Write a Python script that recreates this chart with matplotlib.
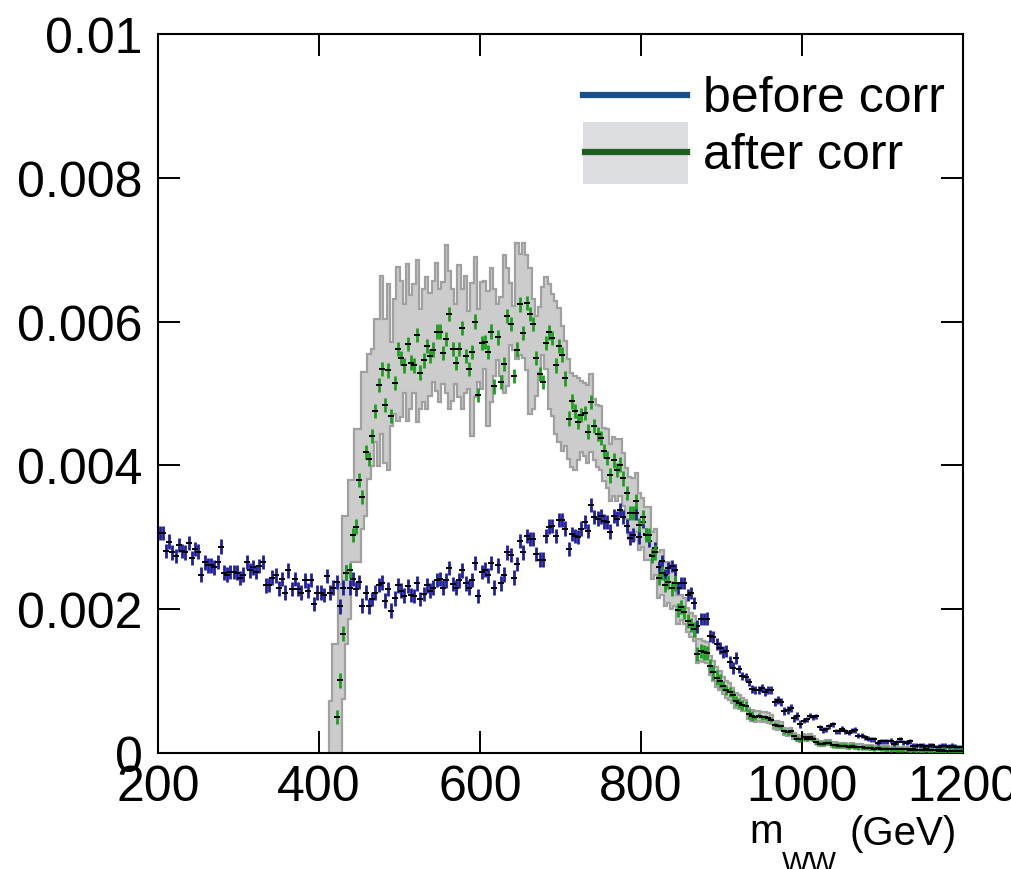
import numpy as np
import matplotlib
matplotlib.use('Agg')
import matplotlib.pyplot as plt
from matplotlib.patches import Rectangle
from matplotlib.lines import Line2D

plt.rcParams['font.family'] = ['Liberation Sans', 'DejaVu Sans']

# binning: 250 bins of 4 GeV from 200 to 1200
edges = np.arange(200, 1201, 4)
centers = edges[:-1] + 2

# before correction (x 1e-3), one value per bin
before_val = [
    3.06, 3.06, 2.81, 2.94, 2.79, 2.74, 2.89, 2.81, 2.79, 2.92,
    2.71, 2.84, 2.80, 2.48, 2.65, 2.61, 2.61, 2.58, 2.66, 2.87,
    2.51, 2.48, 2.52, 2.52, 2.51, 2.43, 2.48, 2.66, 2.54, 2.58,
    2.52, 2.60, 2.66, 2.33, 2.34, 2.44, 2.47, 2.29, 2.42, 2.23,
    2.54, 2.28, 2.42, 2.28, 2.23, 2.40, 2.26, 2.41, 2.07, 2.23,
    2.23, 2.20, 2.46, 2.23, 2.30, 2.38, 2.04, 2.30,
    2.51, 2.30, 2.42, 2.28, 2.38,
    2.05, 2.23, 2.04, 2.14, 2.23, 2.34, 2.37, 2.12, 2.28, 1.98,
    2.15, 2.33, 2.26, 2.19, 2.32, 2.20, 2.18, 2.36, 2.14, 2.21,
    2.33, 2.26, 2.30, 2.41, 2.42, 2.30, 2.40, 2.57, 2.35, 2.30,
    2.40, 2.54, 2.36, 2.30, 2.41, 2.64, 2.18, 2.52, 2.55, 2.47,
    2.64, 2.30, 2.61, 2.36, 2.48, 2.79, 2.75, 2.44, 2.63, 2.95,
    2.79, 3.02, 2.98, 2.98, 2.77, 2.69, 2.69, 3.02, 3.15, 3.16,
    3.02, 3.24, 3.24, 3.12, 2.84,
    3.05, 3.02, 3.00, 3.12, 3.21, 3.09, 3.45, 3.28, 3.26, 3.29,
    3.22, 3.21, 3.08, 3.30, 3.26, 3.38, 3.28, 3.16, 2.99, 3.03,
    3.34, 3.00, 3.21,
    3.05, 2.95, 2.75, 2.85,
    2.58, 2.67, 2.48, 2.57, 2.60, 2.54, 2.29, 2.36, 2.36, 2.20,
    2.23, 2.09, 1.76, 1.86, 1.86, 1.87, 1.63, 1.61, 1.52, 1.46,
    1.40, 1.42, 1.27, 1.18, 1.32, 1.17,
    1.07, 1.06, 0.99, 0.89, 0.88, 0.87, 0.90, 0.85, 0.87, 0.87,
    0.71, 0.74, 0.71, 0.59, 0.60, 0.62, 0.48, 0.52, 0.40, 0.45,
    0.47, 0.52, 0.50, 0.51, 0.36, 0.32, 0.33, 0.37, 0.40, 0.30,
    0.30, 0.34, 0.30, 0.28, 0.31, 0.32, 0.24, 0.24, 0.22, 0.20,
    0.19, 0.19, 0.14, 0.16, 0.16, 0.16, 0.17, 0.13, 0.15, 0.19,
    0.15, 0.14, 0.16, 0.10, 0.10, 0.11, 0.10, 0.09, 0.10, 0.11,
    0.08, 0.09, 0.10, 0.10, 0.09, 0.10, 0.09, 0.08, 0.08,
]
before_err = [0.10] * 150 + [0.085] * 30 + [0.055] * 20 + [0.035] * 50

# after correction, starts at bin 55 (420 GeV)
after_first = 55
after_val = [
    0.50, 1.01, 1.66, 2.51, 2.54, 3.03, 3.15, 3.80, 3.56, 4.19,
    4.09, 4.41, 4.76, 5.12, 5.34, 4.84, 5.32, 4.69, 5.15, 5.62,
    5.49, 5.39, 5.69, 5.43, 5.39, 5.81, 5.29, 5.46, 5.66, 5.52,
    5.61, 5.86, 5.86, 5.56, 5.76, 6.11, 5.62, 5.42, 5.62,
    5.91, 5.52, 5.34, 5.58, 6.00, 4.98, 5.70, 5.72, 5.58, 5.86,
    5.10, 5.78, 5.16, 5.41, 6.08, 5.97, 5.24, 5.61, 6.24, 5.84,
    6.26, 6.11, 5.97, 5.49, 5.27, 5.16, 5.70, 5.85, 5.77, 5.39,
    5.66, 5.54, 5.21, 4.65, 4.89, 4.76, 4.61,
    4.70, 4.73, 4.47, 4.88, 4.55, 4.44, 4.38,
    4.20, 4.10, 3.86, 4.07, 3.94, 4.01, 3.82, 3.62, 3.34, 3.34,
    3.50, 3.17, 3.28, 3.03, 3.03, 2.74, 2.79, 2.43, 2.50, 2.34,
    2.38, 2.29, 2.36, 1.99, 2.03, 1.96, 1.84, 1.78, 1.72, 1.38,
    1.42, 1.40, 1.39, 1.21, 1.12,
    1.05, 1.00, 0.93, 0.88, 0.85, 0.80, 0.72, 0.70,
    0.67, 0.66, 0.54, 0.52, 0.50, 0.52, 0.50, 0.50, 0.48, 0.46,
    0.39, 0.38, 0.37, 0.30, 0.29, 0.30, 0.23, 0.20, 0.19, 0.22,
    0.20, 0.22, 0.20, 0.15, 0.13, 0.13, 0.14, 0.14, 0.11, 0.11,
    0.10, 0.10, 0.10, 0.09, 0.10, 0.09, 0.08, 0.08, 0.07, 0.07,
    0.07,
    0.06, 0.07, 0.06, 0.06, 0.06, 0.05, 0.06, 0.05, 0.05, 0.05,
    0.05, 0.04, 0.05, 0.04, 0.04, 0.04, 0.05, 0.04, 0.04, 0.04,
    0.03, 0.04, 0.03, 0.03, 0.03, 0.03, 0.03, 0.03,
]
after_err = [0.10] * 120 + [0.07] * 10 + [0.035] * 65

# grey band around the corrected shape, starts at bin 53 (412 GeV)
band_first = 53
band_hi = [
    0.73, 1.52, 1.52, 2.35, 3.30, 3.30, 3.80, 3.80, 4.50, 4.50,
    5.30, 5.30, 5.55, 5.62, 6.04, 6.04, 6.63, 6.04, 6.52, 5.71,
    6.32, 6.76, 6.57, 6.24, 6.80, 6.37, 6.52, 6.86, 6.17, 6.46,
    6.62, 6.40, 6.57, 6.82, 6.46, 6.55, 7.07, 6.70, 6.45, 6.24,
    6.79, 6.45, 6.64, 6.15, 6.53, 6.90, 6.18, 6.55, 6.57, 6.43,
    6.74, 6.46, 6.24, 6.34, 6.92, 6.75, 6.54, 6.22, 7.10, 6.94,
    7.10, 6.92, 6.74, 6.32, 6.08, 6.20, 6.48, 6.62, 6.52, 6.38,
    6.28, 6.19, 5.94, 5.73, 5.48, 5.29, 5.25,
    5.22, 5.17, 5.14, 5.12, 5.27, 4.92, 4.84, 4.82, 4.52, 4.50,
    4.30, 4.40, 4.37, 4.37, 4.17, 3.97, 3.84, 3.82, 3.90, 3.62,
    3.54, 3.42, 3.42, 3.08, 3.12, 2.80, 2.82, 2.65, 2.65, 2.62,
    2.62, 2.20, 2.20, 2.15, 2.02, 1.95, 1.90, 1.58, 1.58, 1.56,
    1.55, 1.35, 1.28, 1.20, 1.14, 1.06, 1.00, 0.97, 0.91, 0.83,
    0.80,
    0.76, 0.74, 0.62, 0.60, 0.58, 0.59, 0.57, 0.57, 0.55, 0.53,
    0.45, 0.44, 0.43, 0.35, 0.34, 0.35, 0.28, 0.25, 0.24, 0.26,
    0.25, 0.26, 0.24, 0.19, 0.17, 0.17, 0.18, 0.18, 0.15, 0.15,
    0.14, 0.14, 0.14, 0.13, 0.14, 0.13, 0.12, 0.12, 0.11, 0.11,
    0.11, 0.10, 0.11, 0.10, 0.10, 0.10, 0.09, 0.10, 0.09, 0.09,
    0.09, 0.09, 0.08, 0.09, 0.08, 0.08, 0.08, 0.09, 0.08, 0.08,
    0.08, 0.07, 0.08, 0.07, 0.07, 0.07, 0.07, 0.07, 0.07,
]
band_lo = [
    0.00, 0.00, 0.00, 0.00, 0.75, 1.52, 1.86, 2.65, 2.65, 2.65,
    3.12, 3.30, 3.81, 3.99, 4.32, 3.99, 4.44, 4.04, 3.93, 4.55,
    4.71, 4.62, 4.67, 5.01, 4.62, 4.78, 5.01, 4.60, 4.78, 4.88,
    4.78, 4.97, 5.16, 5.04, 4.88, 5.13, 5.01, 4.78, 4.90, 5.13,
    4.95, 4.78, 5.01, 5.06, 4.41, 4.95, 5.16, 5.06, 5.34, 4.55,
    4.88, 5.25, 5.46, 5.25, 5.01, 5.11, 5.67, 5.60, 5.48, 5.53,
    5.50, 5.32, 4.71, 4.78, 4.97, 5.29, 5.53, 5.34, 4.78, 4.69,
    4.44, 4.32, 4.20, 4.27, 4.09,
    3.98, 3.93, 4.08, 4.18, 4.13, 4.03, 4.18, 4.08, 3.98, 3.93,
    3.78, 3.68, 3.50, 3.58, 3.50, 3.58, 3.43, 3.26, 2.98, 2.96,
    3.08, 2.83, 2.86, 2.68, 2.68, 2.42, 2.48, 2.15, 2.20, 2.05,
    2.08, 2.00, 2.05, 1.80, 1.85, 1.80, 1.68, 1.62, 1.56, 1.25,
    1.28, 1.26, 1.25, 1.08, 1.00, 0.92, 0.88, 0.82, 0.77, 0.74,
    0.70, 0.63, 0.61,
    0.59, 0.58, 0.47, 0.45, 0.43, 0.45, 0.43, 0.43, 0.42, 0.40,
    0.33, 0.32, 0.32, 0.25, 0.24, 0.25, 0.19, 0.16, 0.15, 0.18,
    0.16, 0.18, 0.16, 0.12, 0.10, 0.10, 0.11, 0.11, 0.08, 0.08,
    0.07, 0.07, 0.07, 0.06, 0.07, 0.06, 0.05, 0.05, 0.05, 0.05,
    0.04, 0.04, 0.04, 0.04, 0.04, 0.03, 0.03, 0.03, 0.03, 0.03,
    0.03, 0.03, 0.02, 0.02, 0.02, 0.02, 0.02, 0.02, 0.02, 0.01,
    0.01, 0.01, 0.01, 0.01, 0.01, 0.01, 0.01, 0.01, 0.01,
]

ytick_vals = [0, 0.002, 0.004, 0.006, 0.008, 0.01]
ytick_text = ['0', '0.002', '0.004', '0.006', '0.008', '0.01']
xtick_vals = [200, 400, 600, 800, 1000, 1200]

scale = 1e-3
before_val = np.array(before_val) * scale
before_err = np.array(before_err) * scale
after_val = np.array(after_val) * scale
after_err = np.array(after_err) * scale
band_hi = np.array(band_hi) * scale
band_lo = np.array(band_lo) * scale

W, H = 1011, 870
fig = plt.figure(figsize=(W / 100, H / 100), dpi=100)
ax = fig.add_axes([158 / W, 1 - 754 / H, 805 / W, 719 / H])

# band
band_edges = edges[band_first:band_first + len(band_hi) + 1]
ax.stairs(band_hi, band_edges, baseline=band_lo, fill=True,
          facecolor='#cccccc', edgecolor='#a0a0a0', linewidth=1.6, zorder=1)

# before corr points
ax.errorbar(centers, before_val, yerr=before_err, fmt='none',
            ecolor='#1f1f9e', elinewidth=2.0, capsize=0, zorder=3)
ax.plot(centers, before_val, ls='none', marker='_', ms=4, mew=1.4, color='black', zorder=4)

# after corr points
ac = centers[after_first:after_first + len(after_val)]
ax.errorbar(ac, after_val, yerr=after_err, fmt='none',
            ecolor='#1e9e1e', elinewidth=2.0, capsize=0, zorder=5)
ax.plot(ac, after_val, ls='none', marker='_', ms=4, mew=1.4, color='black', zorder=6)

ax.set_xlim(200, 1200)
ax.set_ylim(0, 0.01)
ax.set_xticks(xtick_vals)
ax.set_xticklabels([str(v) for v in xtick_vals])
ax.set_yticks(ytick_vals)
ax.set_yticklabels(ytick_text)
ax.tick_params(direction='in', length=16, width=1.4, top=True, right=True,
               labelsize=36, color='black')
ax.tick_params(axis='x', pad=8)
ax.tick_params(axis='y', pad=11)
for sp in ax.spines.values():
    sp.set_linewidth(1.5)
    sp.set_color('black')

# axis title
fig.text(749 / W, 1 - 843 / H, 'm', fontsize=29, va='baseline')
fig.text(782 / W, 1 - 872 / H, 'WW', fontsize=21, va='baseline')
fig.text(850 / W, 1 - 845 / H, '(GeV)', fontsize=29, va='baseline')

# legend
fig.add_artist(Rectangle((583 / W, 1 - 185 / H), 105 / W, 62 / H,
                         transform=fig.transFigure, facecolor='#dcdde0', edgecolor='none'))
fig.add_artist(Line2D([583 / W, 687 / W], [1 - 96 / H, 1 - 96 / H],
                      transform=fig.transFigure, color='#1a4f8a', lw=4.5))
fig.add_artist(Line2D([585 / W, 687 / W], [1 - 153 / H, 1 - 153 / H],
                      transform=fig.transFigure, color='#1b5e20', lw=4.5))
fig.text(703 / W, 1 - 112 / H, 'before corr', fontsize=36, va='baseline')
fig.text(703 / W, 1 - 169 / H, 'after corr', fontsize=36, va='baseline')

fig.savefig('out.png', dpi=100)
